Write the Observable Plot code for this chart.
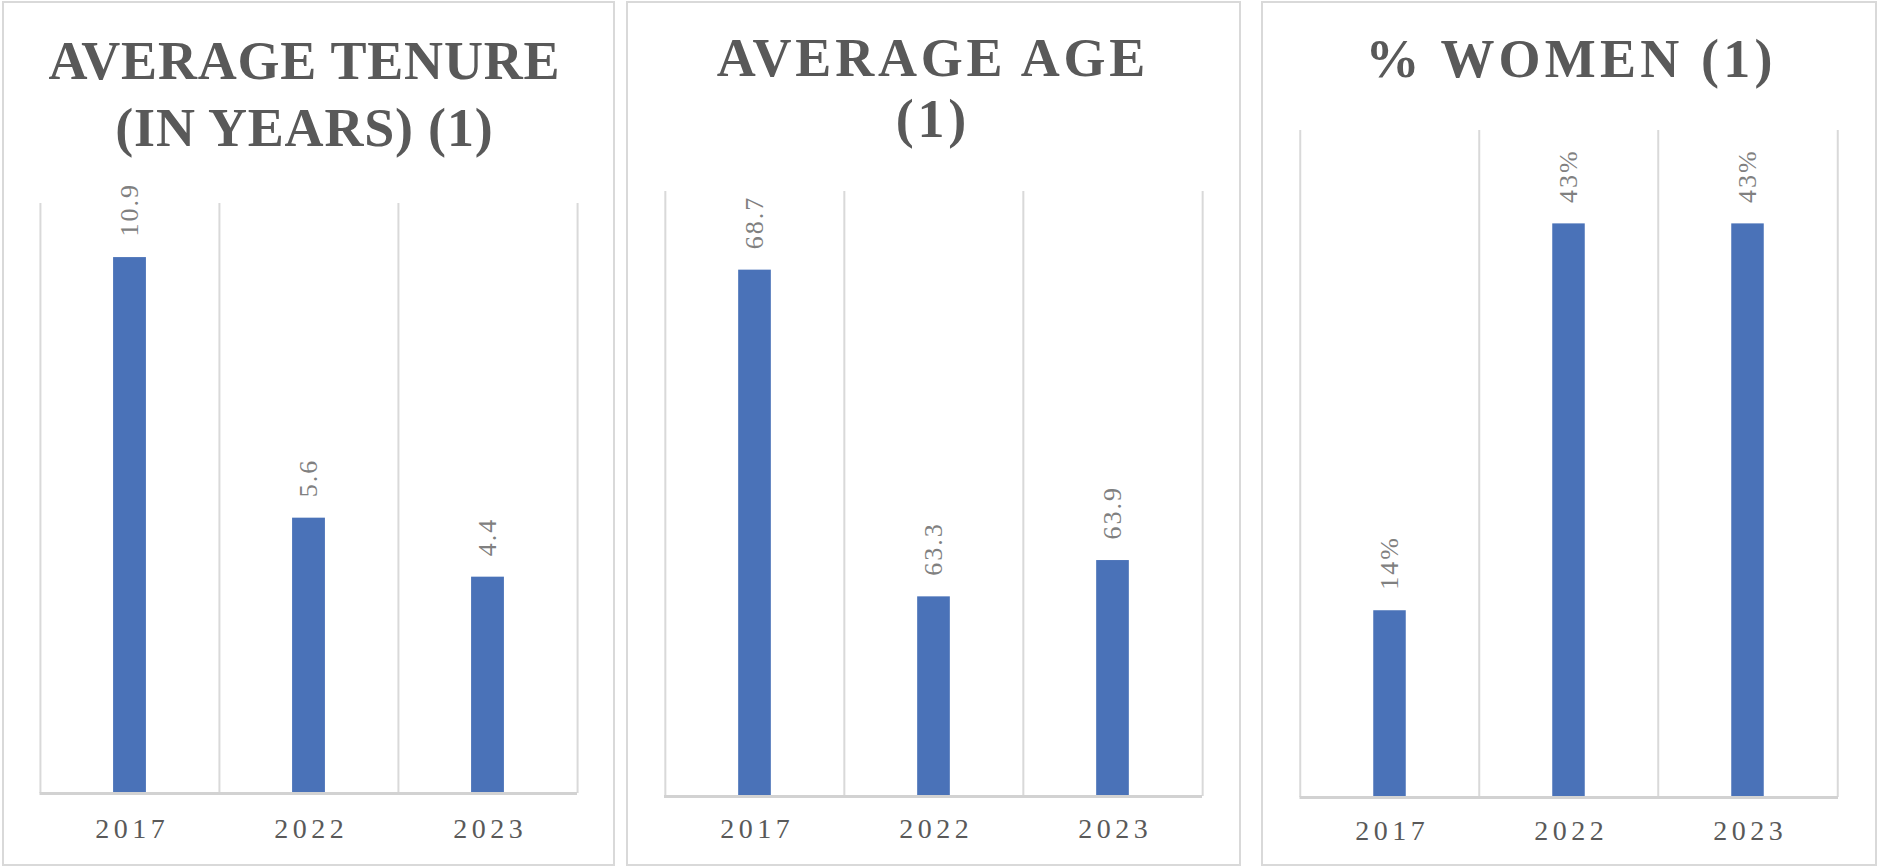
<!DOCTYPE html>
<html>
<head>
<meta charset="utf-8">
<script src="https://cdn.jsdelivr.net/npm/d3@7"></script>
<script src="https://cdn.jsdelivr.net/npm/@observablehq/plot@0.6"></script>
<style>
  html, body { margin: 0; padding: 0; background: #ffffff; }
  #root { position: relative; width: 1877px; height: 867px; overflow: hidden; background: #fff; }
  .panel { position: absolute; box-sizing: border-box; border: 2px solid #d9d9d9; background: #fff; }
  .panel svg { position: absolute; left: 0; top: 0; }
  .title { position: absolute; white-space: nowrap; font-family: "Liberation Serif", "Times New Roman", serif;
           font-weight: bold; font-size: 54px; line-height: 54px; color: #595959; transform: translateX(-50%); }
</style>
</head>
<body>
<div id="root"></div>
<script>
// ---- data ----
const years = ["2017", "2022", "2023"];
const tenureValues = [10.9, 5.6, 4.4];
const ageValues = [68.7, 63.3, 63.9];
const womenValues = [0.14, 0.43, 0.43];

const tenureTitle = ["AVERAGE TENURE", "(IN YEARS) (1)"];
const ageTitle = ["AVERAGE AGE", "(1)"];
const womenTitle = ["% WOMEN (1)"];

const tenureDomain = [0, 12];
const ageDomain = [60, 70];
const womenDomain = [0, 0.5];

// ---- layout ----
const root = document.getElementById("root");
const BAR = "#4a72b8";
const GRID = "#d9d9d9";

function makePanel(cfg) {
  const div = document.createElement("div");
  div.className = "panel";
  div.style.left = cfg.left + "px";
  div.style.top = "1px";
  div.style.width = cfg.width + "px";
  div.style.height = "865px";
  root.appendChild(div);

  const w = cfg.width - 4, h = 861;
  const data = years.map((y, i) => ({year: y, value: cfg.values[i]}));
  const step = (w - cfg.ml - cfg.mr) / years.length;
  const barW = 33;
  const inset = (step - barW) / 2;

  const svg = Plot.plot({
    width: w,
    height: h,
    marginLeft: cfg.ml,
    marginRight: cfg.mr,
    marginTop: cfg.mt,
    marginBottom: cfg.mb,
    x: {type: "band", domain: years, padding: 0, axis: null},
    y: {domain: cfg.domain, axis: null},
    style: {fontFamily: "'Liberation Serif', 'Times New Roman', serif", background: "transparent", overflow: "visible"},
    marks: [
      Plot.ruleX(years, {x: d => d, dx: -step / 2, stroke: GRID, strokeWidth: 2}),
      Plot.ruleX([years[years.length - 1]], {x: d => d, dx: step / 2, stroke: GRID, strokeWidth: 2}),
      Plot.barY(data, {x: "year", y1: cfg.domain[0], y2: "value", fill: BAR, insetLeft: inset, insetRight: inset}),
      Plot.ruleY([cfg.domain[0]], {stroke: "#d2d2d2", strokeWidth: 3, dy: 0}),
      Plot.text(data, {x: "year", y: "value", text: d => cfg.fmt(d.value), rotate: -90, textAnchor: "start",
                       lineAnchor: "middle", dy: -21, fill: "#808080", fontSize: 26}),
      Plot.axisX({tickSize: 0, tickPadding: cfg.tp, fontSize: 28, color: "#595959", label: null})
    ]
  });
  div.appendChild(svg);
  d3.select(svg).selectAll("g[aria-label='x-axis tick label'] text")
    .style("letter-spacing", "4.5px").attr("dx", 2.25);
  d3.select(svg).selectAll("g[aria-label='text'] text").style("letter-spacing", "2px");

  cfg.title.forEach((t, i) => {
    const tdiv = document.createElement("div");
    tdiv.className = "title";
    tdiv.textContent = t;
    tdiv.style.left = (cfg.tcx - cfg.left - 2 + cfg.ls / 2) + "px";
    tdiv.style.top = (cfg.baselines[i] - 3 - 45.2) + "px";
    tdiv.style.letterSpacing = cfg.ls + "px";
    div.appendChild(tdiv);
  });
}

makePanel({left: 2, width: 613, values: tenureValues, domain: tenureDomain, fmt: d3.format(".1f"),
  ml: 35.5, mr: 36, mt: 200, mb: 71, tp: 25, title: tenureTitle, baselines: [79, 146], tcx: 304, ls: 0.8});
makePanel({left: 626, width: 615, values: ageValues, domain: ageDomain, fmt: d3.format(".1f"),
  ml: 36, mr: 37, mt: 188, mb: 68, tp: 22, title: ageTitle, baselines: [76, 137], tcx: 931, ls: 3.8});
makePanel({left: 1261, width: 616, values: womenValues, domain: womenDomain, fmt: d3.format(".0%"),
  ml: 36.5, mr: 37, mt: 127, mb: 67, tp: 23, title: womenTitle, baselines: [77], tcx: 1569, ls: 4.2});
</script>
</body>
</html>
